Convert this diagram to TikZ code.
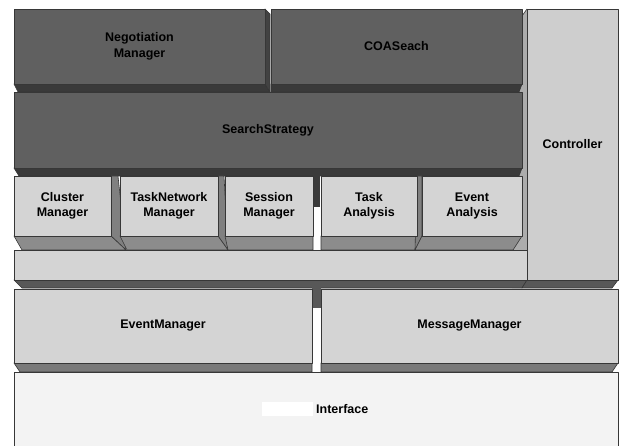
\documentclass[tikz,border=0pt]{standalone}
\usepackage{fontspec}
\setmainfont{Liberation Sans}
\usetikzlibrary{backgrounds}
\definecolor{dkfront}{RGB}{96,96,96}
\definecolor{dkbot}{RGB}{58,58,58}
\definecolor{dkside}{RGB}{66,66,66}
\definecolor{ltfront}{RGB}{212,212,212}
\definecolor{ctfront}{RGB}{206,206,206}
\definecolor{ltside}{RGB}{128,128,128}
\definecolor{ltbot}{RGB}{140,140,140}
\definecolor{barbot}{RGB}{88,88,88}
\definecolor{mgbot}{RGB}{122,122,122}
\definecolor{ctside}{RGB}{172,172,172}
\definecolor{iffront}{RGB}{243,243,243}
\definecolor{edge}{RGB}{55,55,55}
\begin{document}
\begin{tikzpicture}[x=1pt,y=-1pt,
  face/.style={draw=edge, line width=0.6pt, line join=round},
  blk/.style={face, rectangle, inner sep=0pt, outer sep=0pt, align=center,
    font=\fontsize{12.5}{15.5}\selectfont\bfseries},
  darkblk/.style={blk, fill=dkfront},
  lightblk/.style={blk, fill=ltfront},
  lbl/.style={inner sep=0pt, font=\fontsize{12.5}{15.5}\selectfont\bfseries}]
\useasboundingbox (0,0) rectangle (623,446);
\clip (0,0) rectangle (623,446);

% front faces
\node[darkblk, minimum width=251, minimum height=75] (nm) at (139.5,46.5) {Negotiation\\Manager};
\node[darkblk, minimum width=251, minimum height=75] (co) at (396.5,46.5) {COASeach};
\node[darkblk, minimum width=508, minimum height=76] (ss) at (268,130) {SearchStrategy};
\node[blk, fill=ctfront, minimum width=91, minimum height=271] (ctl) at (572.5,144.5) {Controller};
\node[lightblk, minimum width=97, minimum height=60] (cm) at (62.5,206) {Cluster\\Manager};
\node[lightblk, minimum width=98, minimum height=60] (tn) at (169,206) {TaskNetwork\\Manager};
\node[lightblk, minimum width=88, minimum height=60] (sm) at (269,206) {Session\\Manager};
\node[lightblk, minimum width=96, minimum height=60] (ta) at (369,206) {Task\\Analysis};
\node[lightblk, minimum width=100, minimum height=60] (ea) at (472,206) {Event\\Analysis};
\node[lightblk, minimum width=513, minimum height=30] (bar) at (270.5,265) {};
\node[lightblk, minimum width=298, minimum height=74] (em) at (163,326) {EventManager};
\node[lightblk, minimum width=297, minimum height=74] (mm) at (469.5,326) {MessageManager};
\node[blk, fill=iffront, minimum width=604, minimum height=88] (if) at (316,416) {};
\node[fill=white, inner sep=0pt, minimum width=51, minimum height=14] (ifmask) at (287.5,409) {};
\node[lbl, anchor=west] (iflabel) at (316,409) {Interface};

\begin{scope}[on background layer]
  % controller left side
  \fill[ctside] (527,9) -- (527,280) -- (522,288) -- (512,288) -- (512,30) -- cycle;
  \draw[face] (527,9) -- (512,30);
  % top row
  \filldraw[face, fill=dkbot] (14,84) -- (265,84) -- (270,92) -- (18,92) -- cycle;
  \filldraw[face, fill=dkside] (265,9) -- (270,14) -- (270,92) -- (265,84) -- cycle;
  \filldraw[face, fill=dkbot] (271,84) -- (522,84) -- (519,92) -- (271,92) -- cycle;
  % search strategy bottom
  \filldraw[face, fill=dkbot] (14,168) -- (522,168) -- (519,176) -- (19,176) -- cycle;
  \fill[dkbot] (313,175) rectangle (320,207);
  % small blocks
  \filldraw[face, fill=ltside] (111,176) -- (118,176) -- (126,250) -- (111,236) -- cycle;
  \filldraw[face, fill=ltbot] (14,236) -- (111,236) -- (126,250) -- (22,250) -- cycle;
  \filldraw[face, fill=ltside] (218,176) -- (224,176) -- (228,250) -- (218,236) -- cycle;
  \filldraw[face, fill=ltbot] (120,236) -- (218,236) -- (228,250) -- (127,250) -- cycle;
  \filldraw[face, fill=ltbot] (225,236) -- (313,236) -- (313,250) -- (228,250) -- cycle;
  \filldraw[face, fill=ltbot] (321,236) -- (417,236) -- (415,250) -- (321,250) -- cycle;
  \filldraw[face, fill=ltside] (417,176) -- (422,176) -- (422,236) -- (415,250) -- cycle;
  \filldraw[face, fill=ltbot] (422,236) -- (522,236) -- (513,250) -- (415,250) -- cycle;
  % bar and controller bottoms
  \filldraw[face, fill=barbot] (14,280) -- (527,280) -- (522,288) -- (22,288) -- cycle;
  \filldraw[face, fill=barbot] (527,280) -- (618,280) -- (612,288) -- (522,288) -- cycle;
  \fill[barbot] (312,287) rectangle (321,308);
  % manager bottoms
  \filldraw[face, fill=mgbot] (14,363) -- (312,363) -- (312,372) -- (20,372) -- cycle;
  \filldraw[face, fill=mgbot] (321,363) -- (618,363) -- (612,372) -- (321,372) -- cycle;
\end{scope}
\end{tikzpicture}
\end{document}
